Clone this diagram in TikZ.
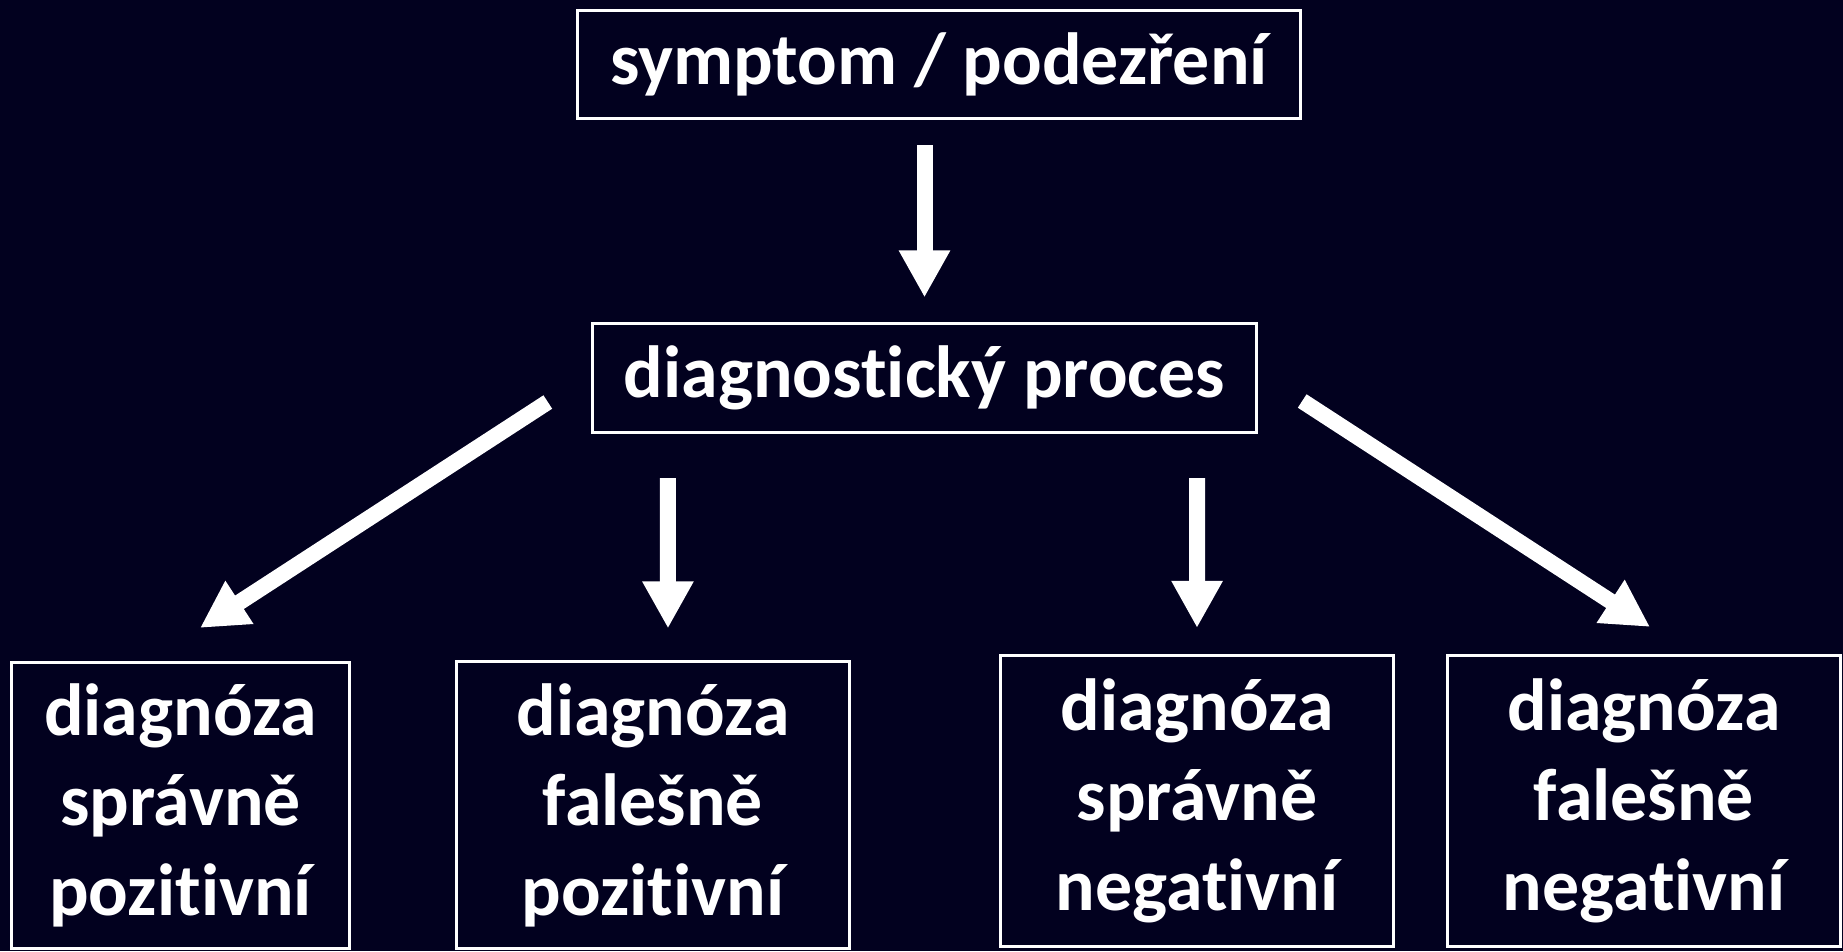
\documentclass[tikz,border=0pt]{standalone}
\usepackage{fontspec}
\setmainfont{Carlito}[Ligatures=NoCommon]
\usetikzlibrary{arrows.meta,calc}

\definecolor{bgnavy}{RGB}{2,1,31}

\tikzset{
  box/.style={draw=white, line width=0.03cm, fill=bgnavy, text=white,
    font=\fontsize{21}{25.6}\selectfont\bfseries, align=center,
    inner sep=0pt, outer sep=0pt},
  wide/.style={box, minimum height=1.08cm},
  tall/.style={box, minimum width=3.93cm},
  arr/.style={draw=white, line width=0.16cm,
    -{Triangle[width=0.48cm,length=0.47cm]}}
}

\begin{document}
\begin{tikzpicture}[x=0.01cm, y=-0.01cm]
  % canvas
  \fill[bgnavy] (0,0) rectangle (1843,951);
  \useasboundingbox (0,0) rectangle (1843,951);

  % boxes
  \node[wide, minimum width=7.23cm] (top) at (939,64.5) {symptom / podezření};
  \node[wide, minimum width=6.64cm, minimum height=1.09cm] (mid) at (924.5,378) {diagnostický proces};

  \node[tall, minimum width=3.38cm, minimum height=2.86cm] (b1) at (180.5,805.5) {diagnóza\\správně\\pozitivní};
  \node[tall, minimum height=2.87cm] (b2) at (653,805) {diagnóza\\falešně\\pozitivní};
  \node[tall, minimum height=2.91cm] (b3) at (1197,801) {diagnóza\\správně\\negativní};
  \node[tall, minimum height=2.91cm] (b4) at (1644,801) {diagnóza\\falešně\\negativní};

  % arrow end points, placed around the boxes
  \coordinate (t1) at ($(top.south -| mid.north)+(0,26.5)$);
  \coordinate (h1) at ($(mid.north)+(0,-26)$);
  \coordinate (tl) at ($(mid.west)+(-44.5,24)$);
  \coordinate (hl) at ($(b1.north)+(19.5,-34.5)$);
  \coordinate (t2) at ($(mid.south west)+(75.5,45.5)$);
  \coordinate (h2) at ($(b2.north)+(15,-33)$);
  \coordinate (t3) at ($(mid.south east)+(-59.5,45.5)$);
  \coordinate (h3) at ($(b3.north)+(0,-27.5)$);
  \coordinate (tr) at ($(mid.east)+(45.5,23)$);
  \coordinate (hr) at ($(b4.north)+(6,-28.5)$);

  % arrows
  \draw[arr] (t1) -- (h1);
  \draw[arr] (tl) -- (hl);
  \draw[arr] (t2) -- (h2);
  \draw[arr] (t3) -- (h3);
  \draw[arr] (tr) -- (hr);
\end{tikzpicture}
\end{document}
